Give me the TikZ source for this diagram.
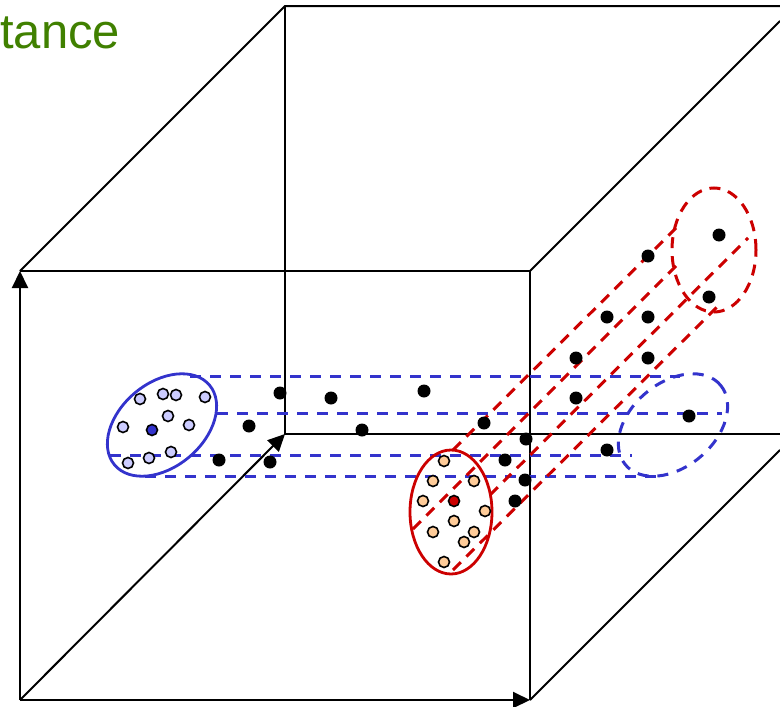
\documentclass[tikz,border=0pt]{standalone}
\usepackage{fontspec}
\setmainfont{Liberation Sans}
\usetikzlibrary{arrows.meta}
\definecolor{bl}{RGB}{51,51,204}
\definecolor{rd}{RGB}{204,0,0}
\definecolor{lb}{RGB}{204,204,255}
\definecolor{org}{RGB}{255,204,153}
\definecolor{gr}{RGB}{64,128,0}
\begin{document}
\begin{tikzpicture}[x=1pt,y=-1pt,
  edge/.style={line width=2pt, black},
  axis/.style={edge, -{Triangle[length=17pt,width=16pt]}},
  bdash/.style={bl, line width=3pt, dash pattern=on 11pt off 9pt},
  rdash/.style={rd, line width=3pt, dash pattern=on 11pt off 8pt},
  bsolid/.style={bl, line width=2.8pt},
  rsolid/.style={rd, line width=2.8pt},
  bdot/.style={circle, fill=black, inner sep=0pt, minimum size=13pt},
  cdot/.style={circle, draw=black, line width=1.6pt, inner sep=0pt, minimum size=11pt},
]
\useasboundingbox (0,0) rectangle (780,707);
% cube corners
\coordinate (O) at (20,700);
\coordinate (FT) at (20,271);
\coordinate (FR) at (530,700);
\coordinate (FTR) at (530,271);
\coordinate (BO) at (285,434);
\coordinate (BT) at (285,6);
\coordinate (BTR) at (780,6);
\coordinate (BR) at (780,434);
\coordinate (RT) at (780,21);
\coordinate (RB) at (780,450);
% cube edges
\draw[edge] (FT) -- (FTR) -- (FR);
\draw[edge] (FT) -- (BT) -- (BTR);
\draw[edge] (BT) -- (BO) -- (BR);
\draw[edge] (FTR) -- (RT);
\draw[edge] (FR) -- (RB);
\draw[axis] (O) -- (FT);
\draw[axis] (O) -- (FR);
\draw[axis] (O) -- (BO);
% title
\node[gr, font=\fontsize{49}{49}\selectfont, anchor=base west, inner sep=0pt] (title) at (0,48) {tance};
% blue cylinder
\coordinate (bf) at (162,425);
\coordinate (bb) at (673,425);
\coordinate (b1s) at (190,376); \coordinate (b1e) at (680,376);
\coordinate (b2s) at (217,413); \coordinate (b2e) at (722,413);
\coordinate (b3s) at (110,455); \coordinate (b3e) at (632,455);
\coordinate (b4s) at (145,476); \coordinate (b4e) at (660,476);
\draw[bdash] (b1s) -- (b1e);
\draw[bdash] (b2s) -- (b2e);
\draw[bdash] (b3s) -- (b3e);
\draw[bdash] (b4s) -- (b4e);
\draw[bdash, rotate around={40:(bb)}] (bb) ellipse [x radius=62pt, y radius=42pt];
\draw[bsolid, rotate around={40:(bf)}] (bf) ellipse [x radius=62pt, y radius=42pt];
% red cylinder
\coordinate (rf) at (451,512);
\coordinate (rb) at (714,250);
\coordinate (r1s) at (453,450); \coordinate (r1e) at (676,228);
\coordinate (r2s) at (413,529); \coordinate (r2e) at (676,266);
\coordinate (r3s) at (490,495); \coordinate (r3e) at (748,238);
\coordinate (r4s) at (453,570); \coordinate (r4e) at (717,307);
\draw[rdash] (r1s) -- (r1e);
\draw[rdash] (r2s) -- (r2e);
\draw[rdash] (r3s) -- (r3e);
\draw[rdash] (r4s) -- (r4e);
\draw[rdash] (rb) ellipse [x radius=42pt, y radius=62pt];
\draw[rsolid] (rf) ellipse [x radius=41pt, y radius=62pt];
% black points
\foreach \p [count=\i] in {(280,393),(331,398),(424,391),(249,426),(362,430),(219,460),(270,462),(484,423),(526,439),(505,460),(525,480),(515,501),(576,398),(576,358),(607,317),(648,317),(648,358),(648,256),(607,450),(689,416),(719,235),(709,297)}
  \node[bdot] (k\i) at \p {};
% blue cluster
\foreach \p [count=\i] in {(140,399),(163,394),(176,395),(205,397),(168,416),(123,427),(189,425),(171,452),(149,458),(128,463)}
  \node[cdot, fill=lb] (u\i) at \p {};
\node[cdot, fill=bl] (uc) at (152,430) {};
% red cluster
\foreach \p [count=\i] in {(444,461),(433,481),(474,481),(423,501),(485,511),(454,521),(433,532),(474,532),(464,542),(444,562)}
  \node[cdot, fill=org] (o\i) at \p {};
\node[cdot, fill=rd] (oc) at (454,501) {};
\end{tikzpicture}
\end{document}
